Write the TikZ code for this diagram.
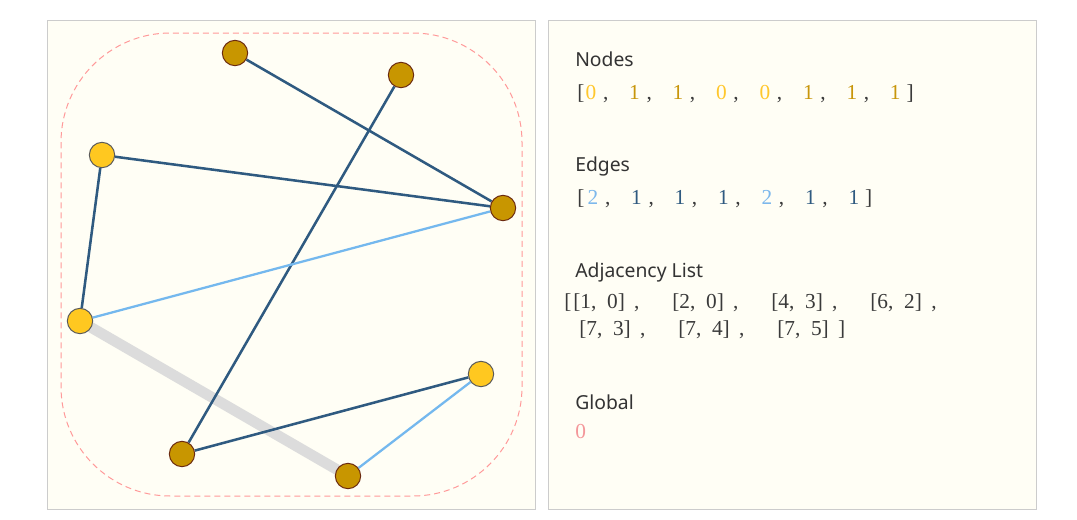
\documentclass[tikz,border=0pt]{standalone}
\usepackage{fontspec}
\setmainfont{Liberation Serif}
\newfontfamily\headfont{Noto Sans}
\usepackage{xcolor}
\usetikzlibrary{positioning,backgrounds}

\definecolor{panelbg}{HTML}{FFFEF5}
\definecolor{panelline}{HTML}{CCCCCC}
\definecolor{hullred}{HTML}{FF9A9A}
\definecolor{goldfill}{HTML}{C89600}
\definecolor{goldline}{HTML}{6B2A10}
\definecolor{yellowfill}{HTML}{FFC820}
\definecolor{yellowline}{HTML}{5A5A5A}
\definecolor{edgedark}{HTML}{2F5A80}
\definecolor{edgelight}{HTML}{74B8EE}
\definecolor{pathgray}{HTML}{DCDCDC}
\definecolor{headtext}{HTML}{333333}
\definecolor{listtext}{HTML}{3A3A3A}
\definecolor{valyellow}{HTML}{FFC72C}
\definecolor{valgold}{HTML}{C8960A}
\definecolor{vallight}{HTML}{7DB8EC}
\definecolor{valdark}{HTML}{2F5A80}
\definecolor{valpink}{HTML}{F4979A}

% one entry of a value list, comma included
\newcommand{\lstitem}[2]{\makebox[32.6pt][l]{\textcolor{#1}{#2}\hspace{5pt},}}
% one pair of the adjacency list
\newcommand{\adjpair}[2]{\makebox[74.25pt][l]{[#1,\hspace{8pt}#2]\hspace{7pt},}}

\begin{document}
\begin{tikzpicture}[
    x=0.75pt, y=-0.75pt,
    panel/.style={draw=panelline, fill=panelbg, line width=0.75pt},
    hull/.style={draw=hullred, dash pattern=on 4.5pt off 3pt, line width=0.75pt, rounded corners=82pt},
    goldnode/.style={circle, draw=goldline, fill=goldfill, line width=0.75pt, minimum size=19pt, inner sep=0pt},
    yellownode/.style={circle, draw=yellowline, fill=yellowfill, line width=0.75pt, minimum size=19pt, inner sep=0pt},
    link/.style={draw=edgedark, line width=1.9pt},
    lightlink/.style={draw=edgelight, line width=1.7pt},
    pathlink/.style={draw=pathgray, line width=8pt},
    heading/.style={anchor=base west, inner sep=0pt, font=\headfont\fontsize{14.5}{17}\selectfont, text=headtext},
    listtxt/.style={anchor=base west, inner sep=0pt, font=\fontsize{16}{18}\selectfont, text=listtext}
]
\useasboundingbox (0,0) rectangle (1077,519);

% Graph nodes
\node[goldnode] (v1) at (235,53) {};
\node[goldnode] (v2) at (401,75) {};
\node[yellownode] (v3) at (102,155) {};
\node[goldnode] (v4) at (503,208) {};
\node[yellownode] (v5) at (80,321) {};
\node[yellownode] (v6) at (481,374) {};
\node[goldnode] (v7) at (182,454) {};
\node[goldnode] (v8) at (348,476) {};

\begin{scope}[on background layer]
% Panels
\draw[panel] (47,20) rectangle (535,509);
\draw[panel] (548,20) rectangle (1036,509);
\draw[hull] (61,33) rectangle (522,496);

% Connections
\draw[pathlink] (v5.center) -- (v8.center);
\draw[link] (v1) -- (v4);
\draw[link] (v2) -- (v7);
\draw[link] (v3) -- (v4);
\draw[link] (v3) -- (v5);
\draw[lightlink] (v5) -- (v4);
\draw[link] (v7) -- (v6);
\draw[lightlink] (v6) -- (v8);
\end{scope}

% Data panel
\node[heading] (nodeshead) at (575,66) {Nodes};
\node[listtxt] (nodeslist) at (577,99) {[\hspace{1pt}\lstitem{valyellow}{0}\lstitem{valgold}{1}\lstitem{valgold}{1}\lstitem{valyellow}{0}\lstitem{valyellow}{0}\lstitem{valgold}{1}\lstitem{valgold}{1}\textcolor{valgold}{1}\hspace{4.5pt}]};

\node[heading] (edgeshead) at (575,171) {Edges};
\node[listtxt] (edgeslist) at (577,204) {[\hspace{2.5pt}\lstitem{vallight}{2}\lstitem{valdark}{1}\lstitem{valdark}{1}\lstitem{valdark}{1}\lstitem{vallight}{2}\lstitem{valdark}{1}\textcolor{valdark}{1}\hspace{4.5pt}]};

\node[heading] (adjhead) at (575,277) {Adjacency List};
\node[listtxt] (adjlist1) at (564,308) {[\hspace{1.5pt}\adjpair{1}{0}\adjpair{2}{0}\adjpair{4}{3}\adjpair{6}{2}};
\node[listtxt] (adjlist2) at (579,335) {\adjpair{7}{3}\adjpair{7}{4}[7,\hspace{8pt}5]\hspace{7pt}]};

\node[heading] (globalhead) at (575,409) {Global};
\node[listtxt, text=valpink] (globalval) at (575,438) {0};

\end{tikzpicture}
\end{document}
